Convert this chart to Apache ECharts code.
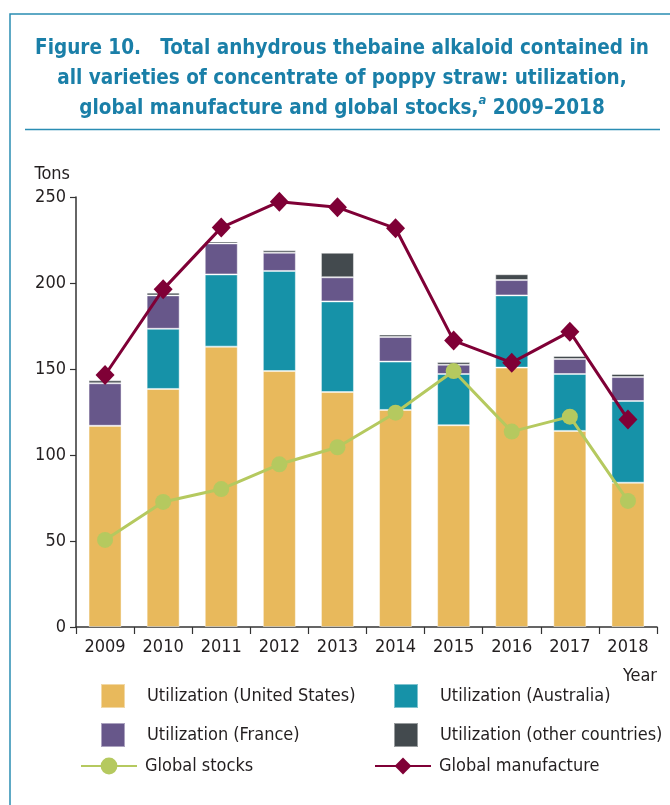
<!DOCTYPE html>
<html><head><meta charset="utf-8">
<script src="https://cdn.jsdelivr.net/npm/echarts@6/dist/echarts.min.js"></script>
<style>html,body{margin:0;padding:0;background:#fff}#c{width:670px;height:805px}</style>
</head><body><div id="c"></div>
<script>
const years = ['2009','2010','2011','2012','2013','2014','2015','2016','2017','2018'];
const usUtil = [117, 138.4, 163, 148.8, 136.6, 126.2, 117.3, 150.8, 114, 83.9];
const auUtil = [0, 35, 42, 58.2, 52.7, 28.1, 29.8, 42, 33.1, 47.5];
const frUtil = [24.7, 19.4, 18, 10.6, 14, 14.3, 5.4, 8.9, 8.7, 13.9];
const otherUtil = [1.7, 1.6, 1.2, 1.4, 14.3, 1.4, 1.6, 3.4, 1.8, 1.8];
const globalStocks = [50.6, 72.7, 80.2, 94.6, 104.5, 124.6, 148.8, 113.6, 122.3, 73.3];
const globalManufacture = [146.5, 196.3, 232.2, 247.3, 244, 231.8, 166.5, 153.7, 171.7, 120.7];
const yTicks = [0, 50, 100, 150, 200, 250];

const FONT = '"DejaVu Sans Condensed","Liberation Sans Narrow",sans-serif';
const TXT = '#231f20';
const BLUE = '#1a7fa8';
const C = {us:'#e8b95c', au:'#1692a8', fr:'#67578a', ot:'#434a4e', st:'#b5c95f', mf:'#7f0036'};

const chart = echarts.init(document.getElementById('c'), null, {renderer:'canvas'});

function barSeries(name, data, color){
  return {name, type:'bar', stack:'u', data, barWidth:33,
    itemStyle:{color, borderColor:'rgba(255,255,255,0.45)', borderWidth:1}, z:2};
}
function leg(name, left, top, isLine){
  const o = {show:true, left, top, orient:'horizontal', data:[name],
    selectedMode:false,
    textStyle:{fontFamily:FONT, fontSize:18, color:TXT, padding: isLine?[0,0,0,3]:[0,0,0,17]},
  };
  if(isLine){ o.itemWidth = 56; o.itemHeight = 21; }
  else { o.itemWidth = 24; o.itemHeight = 24; o.icon = 'rect'; }
  return o;
}

chart.setOption({
  animation:false,
  backgroundColor:'#fff',
  title:{
    left:337, textAlign:'center', top:29,
    text:'{b|Figure 10.   Total anhydrous thebaine alkaloid contained in}\n{b|all varieties of concentrate of poppy straw: utilization,}\n{b|global manufacture and global stocks,}{s|a}{b| 2009–2018}',
    textStyle:{
      rich:{
        b:{fontFamily:FONT, fontWeight:'bold', fontSize:20.5, color:BLUE, lineHeight:30},
        s:{fontFamily:FONT, fontWeight:'bold', fontStyle:'italic', fontSize:13, color:BLUE, lineHeight:30, verticalAlign:'top', padding:[0,0,10,0]}
      }
    }
  },
  graphic:[
    {type:'polyline', shape:{points:[[10,806],[10,14],[671,14]]}, style:{stroke:'#2a8db3', lineWidth:1.5, fill:null}},
    {type:'line', shape:{x1:25, y1:129.5, x2:660, y2:129.5}, style:{stroke:'#2a8db3', lineWidth:1.5}},
  ],
  legend:[
    leg('Utilization (United States)', 95, 678, false),
    leg('Utilization (Australia)', 388, 678, false),
    leg('Utilization (France)', 95, 717, false),
    leg('Utilization (other countries)', 388, 717, false),
    leg('Global stocks', 75, 752, true),
    leg('Global manufacture', 369, 752, true),
  ],
  grid:{left:76, right:13, top:197, bottom:178, containLabel:false},
  xAxis:{
    type:'category', data:years, name:'Year', nameLocation:'end',
    nameGap:0,
    nameTextStyle:{fontFamily:FONT, fontSize:18, color:TXT, align:'right', verticalAlign:'top', padding:[40,0,0,0]},
    axisLine:{lineStyle:{color:'#333', width:1.5}},
    axisTick:{show:true, length:7, lineStyle:{color:'#333', width:1.2}},
    axisLabel:{fontFamily:FONT, fontSize:18, color:TXT, margin:11}
  },
  yAxis:{
    type:'value', min:0, max:250, interval:50, name:'Tons', nameLocation:'end',
    nameGap:14,
    nameTextStyle:{fontFamily:FONT, fontSize:18, color:TXT, align:'right', padding:[0,6,0,0]},
    axisLine:{show:true, lineStyle:{color:'#333', width:1.5}},
    axisTick:{show:true, length:6, lineStyle:{color:'#333', width:1.2}},
    axisLabel:{fontFamily:FONT, fontSize:18, color:TXT, margin:10,
      formatter:function(v){ return yTicks.indexOf(v)>=0 ? String(v) : ''; }},
    splitLine:{show:false}
  },
  series:[
    barSeries('Utilization (United States)', usUtil, C.us),
    barSeries('Utilization (Australia)', auUtil, C.au),
    barSeries('Utilization (France)', frUtil, C.fr),
    barSeries('Utilization (other countries)', otherUtil, C.ot),
    {name:'Global stocks', type:'line', data:globalStocks, symbol:'circle', symbolSize:16,
      lineStyle:{color:C.st, width:3}, itemStyle:{color:C.st}, z:3},
    {name:'Global manufacture', type:'line', data:globalManufacture, symbol:'diamond', symbolSize:[19,20],
      lineStyle:{color:C.mf, width:3}, itemStyle:{color:C.mf}, z:4},
  ]
});
</script></body></html>
